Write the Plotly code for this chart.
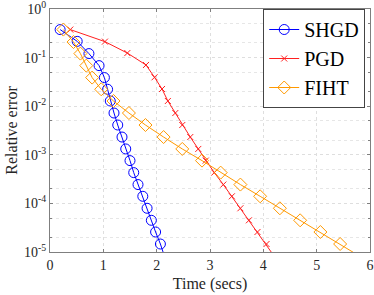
import plotly.graph_objects as go

# ---- data ----
shgd_t = [0.19, 0.51, 0.73, 0.92, 1.02, 1.08, 1.13, 1.20, 1.27, 1.35, 1.42, 1.50,
          1.57, 1.65, 1.74, 1.82, 1.90, 1.98, 2.07, 2.22]
shgd_err = [0.377, 0.216, 0.121, 0.0684, 0.0388, 0.0223, 0.0128, 0.00724, 0.0041,
            0.00232, 0.00132, 7.59e-4, 4.3e-4, 2.44e-4, 1.4e-4, 7.94e-5, 4.49e-5,
            2.58e-5, 1.46e-5, 4.7e-6]

pgd_t = [0.38, 1.03, 1.45, 1.80, 1.96, 2.10, 2.21, 2.35, 2.48, 2.63, 2.78, 2.92,
         3.08, 3.25, 3.41, 3.57, 3.73, 3.89, 4.06, 4.36]
pgd_err = [0.377, 0.213, 0.124, 0.0705, 0.0393, 0.0226, 0.0128, 0.00724, 0.0041,
           0.00232, 0.00132, 7.59e-4, 4.3e-4, 2.44e-4, 1.4e-4, 7.94e-5, 4.49e-5,
           2.58e-5, 1.46e-5, 4.7e-6]

fiht_t = [0.25, 0.44, 0.57, 0.68, 0.79, 0.96, 1.19, 1.48, 1.79, 2.13, 2.48, 2.85,
          3.20, 3.57, 3.94, 4.31, 4.69, 5.07, 5.44, 5.98]
fiht_err = [0.377, 0.209, 0.121, 0.0684, 0.0388, 0.0223, 0.0128, 0.00724, 0.0041,
            0.00232, 0.00132, 7.59e-4, 4.3e-4, 2.44e-4, 1.4e-4, 7.94e-5, 4.49e-5,
            2.58e-5, 1.46e-5, 6.3e-6]

x_ticks = [0, 1, 2, 3, 4, 5, 6]
y_ticks = [1, 1e-1, 1e-2, 1e-3, 1e-4, 1e-5]
y_ticktext = ["10<sup>0</sup>", "10<sup>-1</sup>", "10<sup>-2</sup>",
              "10<sup>-3</sup>", "10<sup>-4</sup>", "10<sup>-5</sup>"]

FONT = "Liberation Serif"
AX = "#7f7f7f"
GRID = "#dedede"

fig = go.Figure()
fig.add_trace(go.Scatter(x=shgd_t, y=shgd_err, name="SHGD", mode="lines+markers",
                         line=dict(color="#0000ff", width=1),
                         marker=dict(symbol="circle-open", size=10,
                                     line=dict(color="#0000ff", width=1))))
fig.add_trace(go.Scatter(x=pgd_t, y=pgd_err, name="PGD", mode="lines+markers",
                         line=dict(color="#ff2020", width=1),
                         marker=dict(symbol="x-thin-open", size=6,
                                     line=dict(color="#ff2020", width=1))))
fig.add_trace(go.Scatter(x=fiht_t, y=fiht_err, name="FIHT", mode="lines+markers",
                         line=dict(color="#ff9900", width=1),
                         marker=dict(symbol="diamond-open", size=10,
                                     line=dict(color="#ff9900", width=1))))

fig.update_layout(
    width=374, height=295,
    margin=dict(l=50, r=4, t=9, b=43, autoexpand=False),
    paper_bgcolor="white", plot_bgcolor="white",
    font=dict(family=FONT, color="#262626", size=13),
    showlegend=True,
    legend=dict(x=0.985, y=1.0, xanchor="right", yanchor="top",
                bgcolor="white", bordercolor="#444", borderwidth=1,
                font=dict(family=FONT, size=20, color="black"),
                itemwidth=30, tracegroupgap=0),
    xaxis=dict(range=[0, 6], tickvals=x_ticks, ticks="inside", ticklen=3,
               tickcolor=AX, linecolor=AX, linewidth=1, mirror="ticks",
               showline=True, showgrid=True, gridcolor=GRID, griddash="dot",
               zeroline=False, automargin=False, ticklabeloverflow="allow",
               tickfont=dict(family=FONT, size=14, color="#262626"),
               title=dict(text="Time (secs)", standoff=6,
                          font=dict(family=FONT, size=16, color="#262626"))),
    yaxis=dict(type="log", range=[-5, 0], tickvals=y_ticks, ticktext=y_ticktext,
               ticks="inside", ticklen=3, tickcolor=AX, linecolor=AX, linewidth=1,
               mirror="ticks", showline=True, showgrid=True, gridcolor=GRID,
               griddash="dot", zeroline=False, automargin=False,
               ticklabeloverflow="allow",
               minor=dict(ticks="inside", ticklen=2, tickcolor=AX, showgrid=True,
                          gridcolor="#e6e6e6", griddash="dot"),
               tickfont=dict(family=FONT, size=14, color="#262626"),
               title=dict(text="Relative error", standoff=2,
                          font=dict(family=FONT, size=16, color="#262626"))),
)

fig.write_html("out.html", config={"displayModeBar": False})

# remove the browser's default page margin so the figure sits at (0, 0)
with open("out.html", encoding="utf-8") as f:
    html = f.read()
html = html.replace("<head>", "<head><style>html,body{margin:0;padding:0;overflow:hidden;}</style>", 1)
with open("out.html", "w", encoding="utf-8") as f:
    f.write(html)
